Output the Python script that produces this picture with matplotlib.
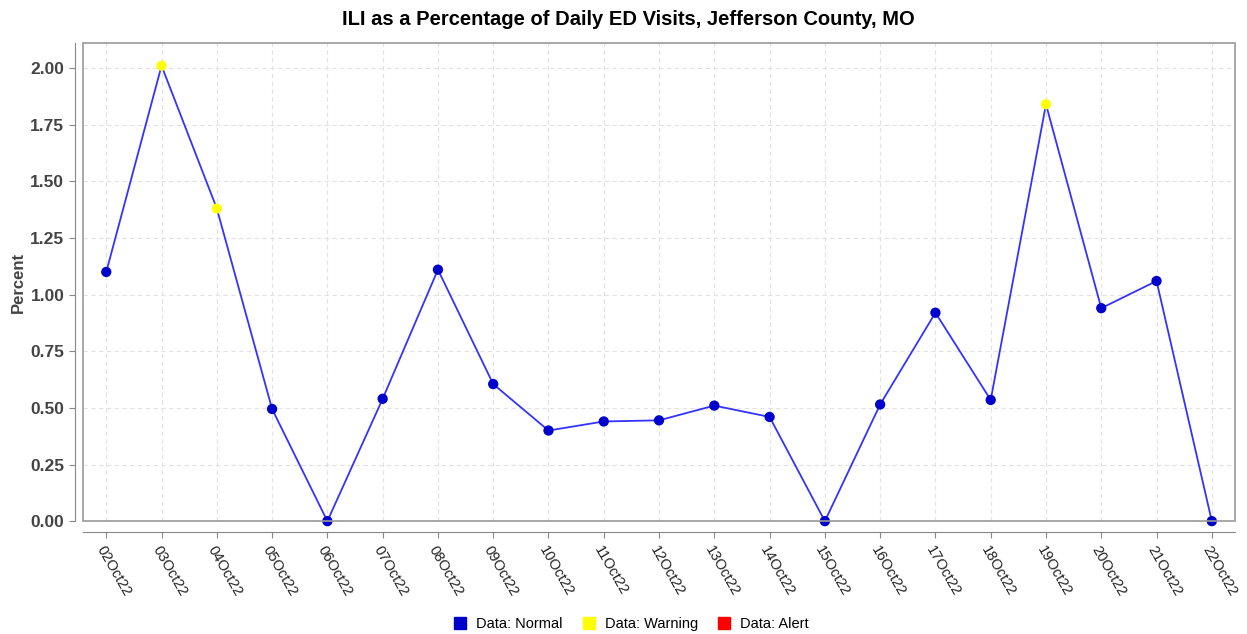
import matplotlib
matplotlib.use('Agg')
import matplotlib.pyplot as plt
from matplotlib.patches import Rectangle
from matplotlib.lines import Line2D

# Daten
dates = ['02Oct22', '03Oct22', '04Oct22', '05Oct22', '06Oct22', '07Oct22', '08Oct22',
         '09Oct22', '10Oct22', '11Oct22', '12Oct22', '13Oct22', '14Oct22', '15Oct22',
         '16Oct22', '17Oct22', '18Oct22', '19Oct22', '20Oct22', '21Oct22', '22Oct22']
percent = [1.10, 2.01, 1.38, 0.495, 0.0, 0.54, 1.11, 0.605, 0.40, 0.44, 0.445,
           0.51, 0.46, 0.0, 0.515, 0.92, 0.535, 1.84, 0.94, 1.06, 0.0]
status = ['Normal', 'Warning', 'Warning', 'Normal', 'Normal', 'Normal', 'Normal',
          'Normal', 'Normal', 'Normal', 'Normal', 'Normal', 'Normal', 'Normal',
          'Normal', 'Normal', 'Normal', 'Warning', 'Normal', 'Normal', 'Normal']
yticks = [0.0, 0.25, 0.5, 0.75, 1.0, 1.25, 1.5, 1.75, 2.0]

colors = {'Normal': '#0000cc', 'Warning': '#ffff00', 'Alert': '#ff0000'}

plt.rcParams['font.family'] = ['Liberation Sans', 'DejaVu Sans']

fig = plt.figure(figsize=(12.47, 6.34), dpi=100)
ax = fig.add_axes([0.0666, 0.178, 0.9238, 0.754])

# Achsen (vor den Tick-Labels, set_position setzt die Ticks zurueck)
for sp in ['top', 'right']:
    ax.spines[sp].set_visible(False)
ax.spines['left'].set_position(('outward', 6))
ax.spines['bottom'].set_position(('outward', 8))
ax.spines['left'].set_color('#888888')
ax.spines['bottom'].set_color('#888888')

x = list(range(len(dates)))
ax.plot(x, percent, color='#3333ff', lw=1.3, zorder=3)
for s in ['Normal', 'Warning']:
    xs = [i for i in x if status[i] == s]
    ys = [percent[i] for i in x if status[i] == s]
    ax.scatter(xs, ys, s=55, color=colors[s], zorder=4, edgecolors='none', clip_on=False)

ax.set_xlim(-0.42, 20.42)
ax.set_ylim(0, 2.11)
ax.tick_params(axis='both', color='#888888', length=4)
ax.tick_params(axis='x', pad=4)
ax.set_xticks(x)
ax.set_xticklabels(dates, rotation=-60, ha='left', va='top', rotation_mode='anchor',
                   fontsize=10.5, color='#222222')
ax.set_yticks(yticks)
ax.set_yticklabels(['%.2f' % v for v in yticks], fontsize=12.5, fontweight='bold',
                   color='#444444')
ax.grid(True, color='#e2e2e2', linestyle=(0, (4, 3)), lw=0.8)
ax.set_axisbelow(True)

ax.add_patch(Rectangle((0, 0), 1, 1, transform=ax.transAxes, fill=False,
                       edgecolor='#999999', lw=1.2, clip_on=False, zorder=5))

ax.set_ylabel('Percent', fontsize=12, fontweight='bold', color='#444444', labelpad=3)
fig.suptitle('ILI as a Percentage of Daily ED Visits, Jefferson County, MO',
             fontsize=14.5, fontweight='bold', x=0.504, y=0.985)

handles = [Line2D([], [], marker='s', linestyle='none', markersize=8,
                  color=colors[k]) for k in ['Normal', 'Warning', 'Alert']]
fig.legend(handles, ['Data: Normal', 'Data: Warning', 'Data: Alert'],
           loc='lower center', bbox_to_anchor=(0.503, -0.016), ncol=3, frameon=False,
           fontsize=10.5, handletextpad=0.1, columnspacing=0.8)

fig.savefig('out.png', dpi=100)
